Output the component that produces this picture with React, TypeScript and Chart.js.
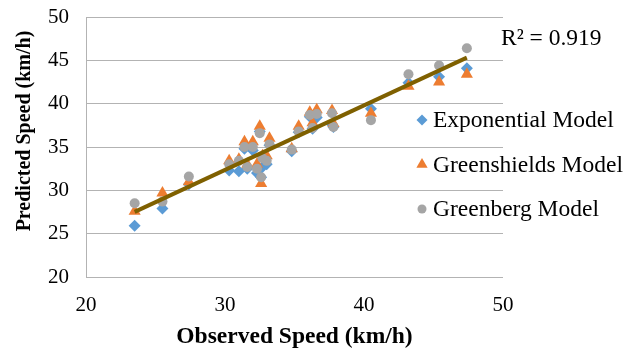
import React, { useEffect, useRef } from 'react';
import { Chart, registerables } from 'chart.js';
import { drawPoint } from 'chart.js/helpers';

Chart.register(...registerables);

// ---- data ----
const observed = [23.5, 25.5, 27.4, 30.3, 31.0, 31.4, 31.6, 32.0, 32.3, 32.5, 32.6, 32.7, 33.0, 33.2, 34.8, 35.3, 36.1, 36.3, 36.6, 37.7, 37.8, 40.5, 43.2, 45.4, 47.4];
const exponential = [25.9, 27.9, 30.7, 32.3, 32.2, 34.8, 32.5, 34.6, 32.0, 36.8, 31.5, 32.7, 33.0, 35.2, 34.5, 36.7, 38.5, 37.1, 38.4, 37.6, 37.3, 39.4, 42.4, 43.1, 44.1];
const greenshields = [27.6, 29.7, 31.0, 33.4, 33.6, 35.6, 33.0, 35.6, 33.0, 37.4, 30.8, 34.0, 34.0, 36.0, 34.8, 37.4, 39.0, 37.8, 39.3, 39.2, 37.7, 38.9, 42.0, 42.5, 43.4];
const greenberg = [28.5, 28.7, 31.6, 33.0, 33.4, 35.0, 32.7, 35.0, 32.5, 36.6, 31.5, 33.7, 33.4, 35.3, 34.7, 36.8, 38.7, 37.2, 38.8, 38.9, 37.3, 38.1, 43.4, 44.4, 46.4];
const seriesNames = ['Exponential Model', 'Greenshields Model', 'Greenberg Model'];
const trendSlope = 0.745;
const trendIntercept = 10.0;
const r2Label = 'R² = 0.919';
const xTitle = 'Observed Speed (km/h)';
const yTitle = 'Predicted Speed (km/h)';
const xRange = [20, 50];
const yRange = [20, 50];

const FONT = "'Liberation Serif', 'Times New Roman', serif";
const COLORS = ['#5B9BD5', '#ED7D31', '#A5A5A5'];
const STYLES = ['rectRot', 'triangle', 'circle'];
const RADII = [6, 7, 5];
const LEGEND_RADII = [5.5, 6.5, 4.5];

const toPoints = (ys: number[]) => observed.map((x, i) => ({ x, y: ys[i] }));
const trendX = [Math.min(...observed), Math.max(...observed)];

const overlayPlugin = {
  id: 'overlay',
  afterDraw(chart: any) {
    const { ctx, chartArea } = chart;
    ctx.save();
    // R² label
    ctx.fillStyle = '#000';
    ctx.font = `23.5px ${FONT}`;
    ctx.textBaseline = 'middle';
    ctx.textAlign = 'left';
    ctx.fillText(r2Label, chartArea.right - 2, 39);
    // legend
    seriesNames.forEach((name, i) => {
      const cy = 120 + i * 44.5;
      const cx = chartArea.right - 81;
      ctx.fillStyle = COLORS[i];
      ctx.strokeStyle = COLORS[i];
      drawPoint(ctx, { pointStyle: STYLES[i], radius: LEGEND_RADII[i], rotation: 0, borderWidth: 0 } as any, cx, cy);
      ctx.fillStyle = '#000';
      ctx.font = `23.5px ${FONT}`;
      ctx.textBaseline = 'middle';
      ctx.textAlign = 'left';
      ctx.fillText(name, cx + 11, cy + 1);
    });
    // y-axis title
    ctx.save();
    ctx.translate(25, 131);
    ctx.rotate(-Math.PI / 2);
    ctx.fillStyle = '#000';
    ctx.font = `bold 20px ${FONT}`;
    ctx.textAlign = 'center';
    ctx.textBaseline = 'middle';
    ctx.fillText(yTitle, 0, 0);
    ctx.restore();
    ctx.restore();
  },
};

export default function App() {
  const ref = useRef<HTMLCanvasElement>(null);
  useEffect(() => {
    if (!ref.current) return;
    const series = [exponential, greenshields, greenberg];
    const chart = new Chart(ref.current, {
      type: 'scatter',
      data: {
        datasets: [
          ...series.map((ys, i) => ({
            label: seriesNames[i],
            data: toPoints(ys),
            pointStyle: STYLES[i] as any,
            pointRadius: RADII[i],
            backgroundColor: COLORS[i],
            borderColor: COLORS[i],
            borderWidth: 0,
            order: 3 - i,
          })),
          {
            type: 'line' as const,
            label: 'trend',
            data: trendX.map((x) => ({ x, y: trendSlope * x + trendIntercept })),
            borderColor: '#7F6000',
            borderWidth: 4,
            pointRadius: 0,
            fill: false,
            order: 0,
          },
        ],
      },
      options: {
        animation: false,
        responsive: false,
        events: [],
        layout: { padding: { top: 17, right: 138, left: 0, bottom: 0 } },
        plugins: { legend: { display: false }, tooltip: { enabled: false } },
        scales: {
          x: {
            type: 'linear',
            min: xRange[0],
            max: xRange[1],
            ticks: { stepSize: 10, padding: 8, color: '#000', font: { family: FONT, size: 21 } },
            grid: { display: false },
            border: { display: false },
            title: {
              display: true,
              text: xTitle,
              color: '#000',
              font: { family: FONT, size: 23.5, weight: 'bold' },
              padding: { top: 0, bottom: 3 },
            },
            afterFit: (s: any) => { s.height = 77; s.paddingLeft = 0; s.paddingRight = 0; },
          },
          y: {
            type: 'linear',
            min: yRange[0],
            max: yRange[1],
            ticks: { stepSize: 5, padding: 17, color: '#000', font: { family: FONT, size: 21 } },
            grid: { color: '#B3B3B3', lineWidth: 1, drawTicks: false },
            border: { display: true, color: '#B3B3B3', width: 1 },
            title: { display: false },
            afterFit: (s: any) => { s.width = 86; s.paddingTop = 0; s.paddingBottom = 0; },
          },
        },
      },
      plugins: [overlayPlugin],
    });
    return () => chart.destroy();
  }, []);
  return (
    <div style={{ position: 'absolute', left: 0, top: 0, width: 641, height: 354, background: '#fff' }}>
      <canvas ref={ref} width={641} height={354} />
    </div>
  );
}
